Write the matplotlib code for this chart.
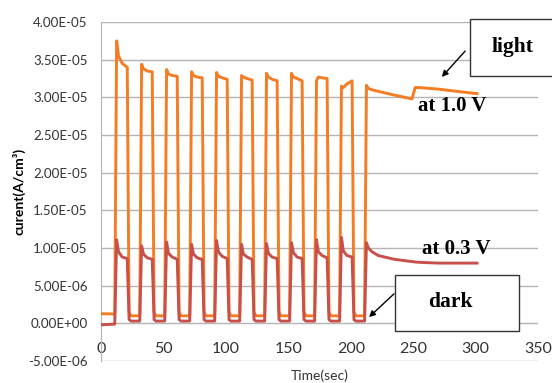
import matplotlib
matplotlib.use('Agg')
import matplotlib.pyplot as plt
from matplotlib.patches import Rectangle
from matplotlib.ticker import FuncFormatter

# Tiempos de muestreo (s), compartidos por ambas curvas
time = [0,
        11, 12.5, 14, 17, 21, 22.5, 24,
        31, 32.5, 34, 37, 41, 42.5, 44,
        51, 52.5, 54, 57, 61, 62.5, 64,
        71, 72.5, 74, 77, 81, 82.5, 84,
        91, 92.5, 94, 97, 101, 102.5, 104,
        111, 112.5, 114, 117, 121, 122.5, 124,
        131, 132.5, 134, 137, 141, 142.5, 144,
        151, 152.5, 154, 157, 161, 162.5, 164,
        171, 172.5, 174, 177, 181, 182.5, 184,
        191, 192.5, 194, 197, 201, 202.5, 204,
        211, 212.5, 214, 217, 222, 235, 249, 251.5, 255, 270, 285, 301]

# Corriente con luz a 1.0 V (en unidades de 1e-5 A/cm3)
light_10v = [0.128,
             0.125, 3.75, 3.55, 3.45, 3.40, 0.15, 0.10,
             0.10, 3.44, 3.38, 3.35, 3.34, 0.15, 0.10,
             0.10, 3.37, 3.31, 3.29, 3.28, 0.15, 0.10,
             0.10, 3.34, 3.29, 3.27, 3.26, 0.15, 0.10,
             0.10, 3.33, 3.28, 3.26, 3.24, 0.15, 0.10,
             0.10, 3.29, 3.27, 3.25, 3.23, 0.15, 0.10,
             0.10, 3.32, 3.27, 3.24, 3.22, 0.15, 0.10,
             0.10, 3.32, 3.27, 3.25, 3.22, 0.15, 0.10,
             0.10, 3.22, 3.27, 3.26, 3.25, 0.15, 0.10,
             0.10, 3.15, 3.13, 3.18, 3.22, 0.15, 0.10,
             0.10, 3.16, 3.12, 3.10, 3.08, 3.03, 2.98, 3.13, 3.13, 3.11, 3.08, 3.05]

# Corriente a 0.3 V (en unidades de 1e-5 A/cm3)
dark_03v = [-0.02,
            -0.01, 1.11, 0.95, 0.88, 0.86, 0.05, 0.03,
            0.03, 1.03, 0.92, 0.87, 0.85, 0.05, 0.03,
            0.03, 1.08, 0.93, 0.88, 0.85, 0.05, 0.03,
            0.03, 1.05, 0.92, 0.87, 0.85, 0.05, 0.03,
            0.03, 1.10, 0.95, 0.89, 0.86, 0.05, 0.03,
            0.03, 1.05, 0.92, 0.88, 0.85, 0.05, 0.03,
            0.03, 1.06, 0.93, 0.88, 0.86, 0.05, 0.03,
            0.03, 1.07, 0.94, 0.88, 0.86, 0.05, 0.03,
            0.03, 1.11, 0.95, 0.90, 0.87, 0.05, 0.03,
            0.03, 1.14, 0.96, 0.90, 0.88, 0.05, 0.03,
            0.03, 1.07, 1.00, 0.95, 0.90, 0.85, 0.82, 0.815, 0.81, 0.80, 0.80, 0.80]

x_ticks = [0, 50, 100, 150, 200, 250, 300, 350]
y_ticks = [-5e-6, 0, 5e-6, 1e-5, 1.5e-5, 2e-5, 2.5e-5, 3e-5, 3.5e-5, 4e-5]

plt.rcParams['font.family'] = ['Lato', 'DejaVu Sans']

fig = plt.figure(figsize=(5.52, 3.83), dpi=100)
ax = fig.add_axes([0.183, 0.0574, 0.792, 0.885])

# Las curvas
ax.plot(time, [v * 1e-5 for v in light_10v], color='#F47C22', lw=2.1, zorder=3)
ax.plot(time, [v * 1e-5 for v in dark_03v], color='#C8504B', lw=2.1, zorder=4)

ax.set_xlim(0, 350)
ax.set_ylim(-5e-6, 4e-5)
ax.set_xticks(x_ticks)
ax.set_yticks(y_ticks)

def fmt(v, pos):
    if abs(v) < 1e-12:
        v = 0.0
    return f'{v:.2E}'

ax.yaxis.set_major_formatter(FuncFormatter(fmt))
ax.grid(axis='y', color='#b4b4b4', lw=1.0)
ax.set_axisbelow(True)

for s in ['top', 'right', 'bottom']:
    ax.spines[s].set_visible(False)
ax.spines['left'].set_color('#b4b4b4')
ax.tick_params(axis='y', length=0, labelsize=9.6, pad=9.5, colors='#333333')
ax.tick_params(axis='x', length=0, labelsize=11.5, pad=-14, colors='#333333')

ax.set_ylabel('curent(A/cm³)', fontsize=10, fontweight='bold')
ax.yaxis.set_label_coords(-0.172, 0.5)
ax.set_xlabel('Time(sec)', fontsize=10, labelpad=0, color='#333333')
ax.xaxis.set_label_coords(0.5, -0.025)

# Anotaciones (coordenadas de figura en pixeles)
W, H = 552, 383
def fx(x):
    return x / W
def fy(y):
    return 1 - y / H

serif = dict(family='Liberation Serif', fontweight='bold', color='black')

fig.patches.append(Rectangle((fx(470), fy(76)), fx(100), fy(19) - fy(76),
                             transform=fig.transFigure, facecolor='white',
                             edgecolor='#333333', lw=1.0, zorder=5))
fig.text(fx(512), fy(47), 'light', ha='center', va='center', fontsize=15.5,
         zorder=6, **serif)
fig.patches.append(Rectangle((fx(395), fy(331)), fx(519) - fx(395), fy(275) - fy(331),
                             transform=fig.transFigure, facecolor='white',
                             edgecolor='#333333', lw=1.0, zorder=5))
fig.text(fx(450), fy(302), 'dark', ha='center', va='center', fontsize=15.5,
         zorder=6, **serif)

ax.annotate('', xy=(fx(440), fy(79)), xytext=(fx(467), fy(49)),
            xycoords='figure fraction', textcoords='figure fraction',
            arrowprops=dict(arrowstyle='-|>', color='black', lw=1.0, mutation_scale=9))
ax.annotate('', xy=(fx(367), fy(319)), xytext=(fx(396), fy(292)),
            xycoords='figure fraction', textcoords='figure fraction',
            arrowprops=dict(arrowstyle='-|>', color='black', lw=1.0, mutation_scale=9))

fig.text(fx(452), fy(106), 'at 1.0 V', ha='center', va='center', fontsize=15, **serif)
fig.text(fx(456), fy(249), 'at 0.3 V', ha='center', va='center', fontsize=15, **serif)

fig.savefig('out.png', dpi=100)
